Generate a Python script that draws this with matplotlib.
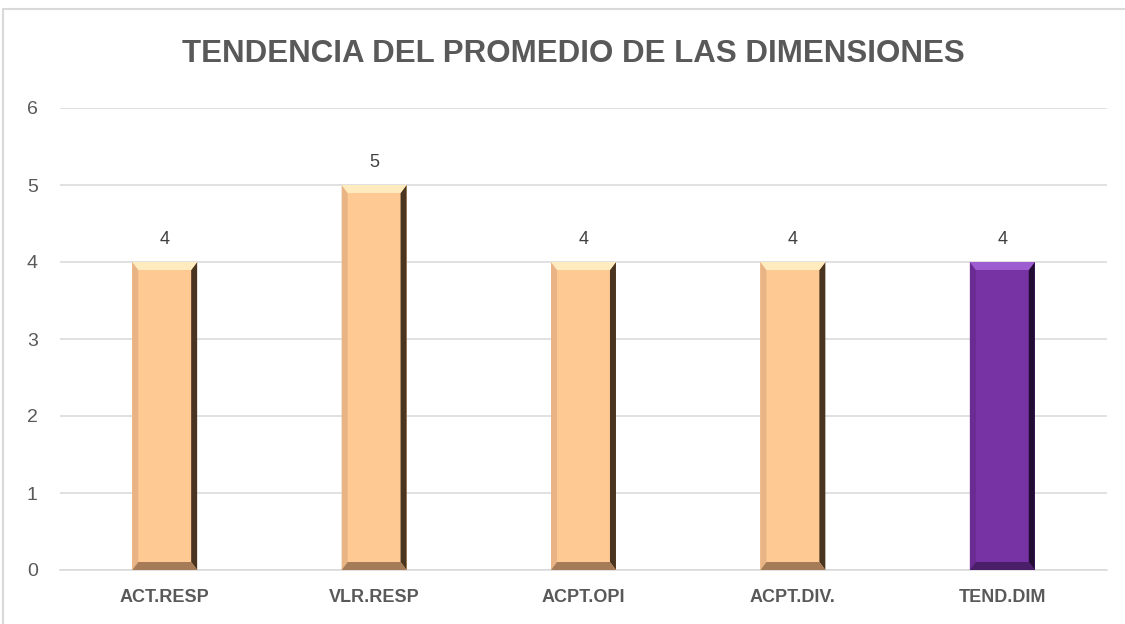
import matplotlib
matplotlib.use("Agg")
import matplotlib.pyplot as plt
from matplotlib.patches import Polygon
from matplotlib.lines import Line2D
import numpy as np

categories = ["ACT.RESP", "VLR.RESP", "ACPT.OPI", "ACPT.DIV.", "TEND.DIM"]
values = [4, 5, 4, 4, 4]
yticks = [0, 1, 2, 3, 4, 5, 6]
title = "TENDENCIA DEL PROMEDIO DE LAS DIMENSIONES"

peach = {"face": "#FFC994", "top": "#FFEBBE", "left": "#E8B486", "right": "#4A3521", "bottom": "#A57C57"}
purple = {"face": "#7733A3", "top": "#9D5CCF", "left": "#6A2B93", "right": "#220C33", "bottom": "#4A1E69"}
styles = [peach, peach, peach, peach, purple]

plt.rcParams['font.family'] = ['Liberation Sans', 'DejaVu Sans']

fig = plt.figure(figsize=(11.25, 6.24), dpi=100)
fig.lines.append(Line2D([3/1125, 3/1125, 1], [0, 1 - 9/624, 1 - 9/624], transform=fig.transFigure,
                        color="#D9D9D9", lw=1.5))
ax = fig.add_axes([60/1125, 54/624, 1047/1125, 462/624])

x = np.arange(len(categories))
bars = ax.bar(x, values, width=0.31, color=[s["face"] for s in styles], zorder=3)
ax.set_xlim(-0.5, len(categories) - 0.5)
ax.set_ylim(0, 6)
ax.set_yticks(yticks)
ax.set_xticks(x)
ax.set_xticklabels(categories, fontweight="bold", fontsize=13, color="#595959")
ax.tick_params(axis="y", labelsize=14, labelcolor="#595959", length=0, pad=16)
ax.tick_params(axis="x", length=0, pad=14)
ax.grid(axis="y", color="#D9D9D9", lw=1.1, zorder=0)
for s in ["top", "right", "left"]:
    ax.spines[s].set_visible(False)
ax.spines["bottom"].set_color("#D9D9D9")
ax.spines["bottom"].set_linewidth(1.1)

# bevel decoration derived from each bar patch
fig.canvas.draw()
inv = ax.transData.inverted()
dx = inv.transform((6, 0))[0] - inv.transform((0, 0))[0]
dy = inv.transform((0, 8))[1] - inv.transform((0, 0))[1]
for b, st, v in zip(bars, styles, values):
    x0, w, h = b.get_x(), b.get_width(), b.get_height()
    x1 = x0 + w
    ax.add_patch(Polygon([(x0, 0), (x0 + dx, dy), (x0 + dx, h - dy), (x0, h)], closed=True,
                         facecolor=st["left"], edgecolor="none", zorder=4))
    ax.add_patch(Polygon([(x1, 0), (x1, h), (x1 - dx, h - dy), (x1 - dx, dy)], closed=True,
                         facecolor=st["right"], edgecolor="none", zorder=4))
    ax.add_patch(Polygon([(x0, h), (x1, h), (x1 - dx, h - dy), (x0 + dx, h - dy)], closed=True,
                         facecolor=st["top"], edgecolor="none", zorder=5))
    ax.add_patch(Polygon([(x0, 0), (x1, 0), (x1 - dx, dy), (x0 + dx, dy)], closed=True,
                         facecolor=st["bottom"], edgecolor="none", zorder=5))
    ax.annotate(f"{v}", (x0 + w / 2, h), xytext=(0, 10),
                textcoords="offset points", ha="center", va="bottom", fontsize=13, color="#404040")

fig.text(573/1125, 1 - 54/624, title, ha="center", va="center", fontsize=22.5, fontweight="bold", color="#595959")

fig.savefig("out.png", dpi=100)
